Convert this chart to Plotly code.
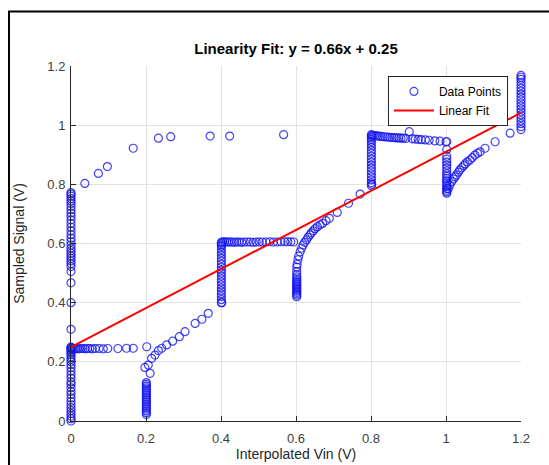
import plotly.graph_objects as go

# ---------------- data ----------------
# column at Vin = 0 (low part)
colA_x = [0.0] * 29
colA_y = [0.0, 0.008, 0.016, 0.025, 0.035, 0.045, 0.055, 0.066, 0.078, 0.09, 0.1, 0.112,
          0.124, 0.132, 0.145, 0.156, 0.168, 0.18, 0.19, 0.2, 0.208, 0.216, 0.224, 0.23,
          0.236, 0.241, 0.245, 0.248, 0.25]
# column at Vin = 0 (upper part)
colB_x = [0.0] * 30
colB_y = [0.31, 0.40, 0.467, 0.505, 0.522, 0.532, 0.541, 0.55, 0.558, 0.567, 0.576, 0.585,
          0.595, 0.606, 0.618, 0.63, 0.642, 0.655, 0.668, 0.68, 0.692, 0.703, 0.714, 0.725,
          0.735, 0.744, 0.752, 0.76, 0.767, 0.772]
# upper arc from 0 to ~0.57
arc_x = [0.037, 0.073, 0.097, 0.166, 0.233, 0.266, 0.371, 0.423, 0.567]
arc_y = [0.803, 0.837, 0.86, 0.922, 0.956, 0.961, 0.963, 0.963, 0.968]
# flat run near 0.245
flatA_x = [0.004, 0.008, 0.012, 0.016, 0.021, 0.026, 0.032, 0.038, 0.044, 0.05, 0.057,
           0.065, 0.075, 0.086, 0.098, 0.125, 0.148, 0.166, 0.202]
flatA_y = [0.245, 0.245, 0.244, 0.245, 0.244, 0.245, 0.245, 0.244, 0.245, 0.245, 0.244,
           0.245, 0.245, 0.244, 0.245, 0.245, 0.246, 0.246, 0.251]
# column at Vin = 0.2
colC_x = [0.201] * 19
colC_y = [0.022, 0.028, 0.034, 0.04, 0.046, 0.052, 0.058, 0.064, 0.07, 0.076, 0.082, 0.088,
          0.094, 0.1, 0.106, 0.112, 0.118, 0.124, 0.13]
# rising curve 0.2 -> 0.4
curveC_x = [0.197, 0.211, 0.206, 0.215, 0.224, 0.233, 0.242, 0.255, 0.271, 0.289, 0.304,
            0.331, 0.349, 0.366, 0.402]
curveC_y = [0.181, 0.161, 0.189, 0.212, 0.223, 0.238, 0.246, 0.257, 0.27, 0.285, 0.302,
            0.33, 0.344, 0.364, 0.4]
# column at Vin = 0.4
colD_x = [0.401] * 23
colD_y = [0.4, 0.41, 0.42, 0.43, 0.44, 0.45, 0.46, 0.47, 0.48, 0.49, 0.5, 0.51, 0.52, 0.53,
          0.54, 0.55, 0.56, 0.57, 0.58, 0.59, 0.595, 0.6, 0.604]
# flat run near 0.605
flatD_x = [0.405, 0.41, 0.415, 0.42, 0.425, 0.43, 0.436, 0.442, 0.448, 0.455, 0.462, 0.47,
           0.478, 0.486, 0.494, 0.502, 0.51, 0.52, 0.53, 0.54, 0.55, 0.56, 0.57, 0.578,
           0.586, 0.594]
flatD_y = [0.606, 0.606, 0.605, 0.605, 0.605, 0.605, 0.604, 0.605, 0.605, 0.604, 0.605,
           0.605, 0.605, 0.604, 0.605, 0.605, 0.605, 0.605, 0.606, 0.605, 0.605, 0.606,
           0.606, 0.606, 0.606, 0.605]
# column at Vin = 0.6
colE_x = [0.602] * 17
colE_y = [0.42, 0.425, 0.43, 0.435, 0.44, 0.445, 0.45, 0.455, 0.46, 0.465, 0.47, 0.475,
          0.48, 0.487, 0.495, 0.505, 0.52]
# rising curve 0.6 -> 0.8
curveE_x = [0.603, 0.605, 0.607, 0.611, 0.615, 0.619, 0.623, 0.628, 0.632, 0.637, 0.641,
            0.646, 0.651, 0.657, 0.664, 0.671, 0.68, 0.689, 0.71, 0.74, 0.771, 0.802]
curveE_y = [0.53, 0.545, 0.557, 0.572, 0.584, 0.595, 0.604, 0.612, 0.621, 0.629, 0.636,
            0.643, 0.65, 0.657, 0.663, 0.668, 0.677, 0.685, 0.705, 0.736, 0.767, 0.8]
# column at Vin = 0.8
colF_x = [0.801] * 20
colF_y = [0.795, 0.805, 0.815, 0.825, 0.835, 0.845, 0.855, 0.865, 0.875, 0.885, 0.895,
          0.905, 0.915, 0.925, 0.935, 0.945, 0.952, 0.958, 0.964, 0.968]
# slowly falling run 0.8 -> 1.0
flatF_x = [0.805, 0.81, 0.815, 0.82, 0.826, 0.832, 0.838, 0.844, 0.85, 0.856, 0.862, 0.868,
           0.874, 0.88, 0.886, 0.893, 0.902, 0.91, 0.918, 0.926, 0.934, 0.945, 0.955, 0.97,
           0.984, 1.0]
flatF_y = [0.966, 0.965, 0.964, 0.963, 0.962, 0.961, 0.96, 0.96, 0.959, 0.958, 0.958,
           0.957, 0.957, 0.956, 0.956, 0.955, 0.978, 0.954, 0.953, 0.952, 0.951, 0.95,
           0.949, 0.947, 0.946, 0.944]
# column at Vin = 1.0
colG_x = [1.002] * 19
colG_y = [0.77, 0.775, 0.78, 0.786, 0.792, 0.798, 0.805, 0.812, 0.82, 0.828, 0.836, 0.845,
          0.855, 0.865, 0.875, 0.885, 0.895, 0.918, 0.944]
# rising curve 1.0 -> 1.2
curveG_x = [1.006, 1.01, 1.015, 1.02, 1.024, 1.028, 1.033, 1.037, 1.042, 1.047, 1.051,
            1.057, 1.064, 1.07, 1.077, 1.084, 1.091, 1.104, 1.131, 1.171]
curveG_y = [0.785, 0.797, 0.809, 0.818, 0.825, 0.832, 0.841, 0.849, 0.856, 0.863, 0.869,
            0.876, 0.882, 0.89, 0.899, 0.905, 0.91, 0.922, 0.944, 0.973]
# column at Vin = 1.2
colH_x = [1.2] * 20
colH_y = [0.985, 0.995, 1.005, 1.015, 1.025, 1.035, 1.045, 1.055, 1.065, 1.075, 1.085,
          1.095, 1.105, 1.115, 1.125, 1.135, 1.145, 1.155, 1.162, 1.168]

fit_slope = 0.66
fit_intercept = 0.25
fit_vin = [0.0, 1.2]

x_ticks = [0, 0.2, 0.4, 0.6, 0.8, 1.0, 1.2]
x_ticktext = ["0", "0.2", "0.4", "0.6", "0.8", "1", "1.2"]
y_ticks = [0, 0.2, 0.4, 0.6, 0.8, 1.0, 1.2]
y_ticktext = ["0", "0.2", "0.4", "0.6", "0.8", "1", "1.2"]

# ---------------- assemble ----------------
seg_x = [colA_x, colB_x, arc_x, flatA_x, colC_x, curveC_x, colD_x, flatD_x, colE_x,
         curveE_x, colF_x, flatF_x, colG_x, curveG_x, colH_x]
seg_y = [colA_y, colB_y, arc_y, flatA_y, colC_y, curveC_y, colD_y, flatD_y, colE_y,
         curveE_y, colF_y, flatF_y, colG_y, curveG_y, colH_y]
vin = [v for s in seg_x for v in s]
sig = [v for s in seg_y for v in s]
fit_sig = [fit_slope * v + fit_intercept for v in fit_vin]

FONT = "Liberation Sans, Arial, Helvetica, sans-serif"
AX = "#262626"
TICK = "#404040"
BLUE = "rgba(20,20,240,0.8)"

fig = go.Figure()
fig.add_trace(go.Scatter(
    x=vin, y=sig, mode="markers", name="Data Points", cliponaxis=False,
    marker=dict(symbol="circle-open", size=8, color=BLUE,
                line=dict(width=1.2, color=BLUE)),
))
fig.add_trace(go.Scatter(
    x=fit_vin, y=fit_sig, mode="lines", name="Linear Fit",
    line=dict(color="#ff0000", width=2),
))

axis_common = dict(
    showgrid=True, gridcolor="#e3e3e3", gridwidth=1, zeroline=False,
    showline=True, linecolor=AX, linewidth=1, mirror=False,
    ticks="inside", ticklen=5, tickcolor=AX, tickwidth=1,
    tickfont=dict(family=FONT, size=13, color=TICK),
    automargin=False,
)
fig.update_xaxes(range=[0, 1.2], tickvals=x_ticks, ticktext=x_ticktext,
                 ticklabelstandoff=5,
                 title=dict(text="Interpolated Vin (V)", font=dict(family=FONT, size=14, color=AX),
                            standoff=3),
                 **axis_common)
fig.update_yaxes(range=[0, 1.2], tickvals=y_ticks, ticktext=y_ticktext,
                 ticklabelstandoff=2,
                 title=dict(text="Sampled Signal (V)", font=dict(family=FONT, size=14, color=AX),
                            standoff=19),
                 **axis_common)

fig.update_layout(
    width=549, height=465,
    margin=dict(l=71, r=28, t=66, b=44),
    paper_bgcolor="white", plot_bgcolor="white",
    title=dict(text="<b>Linearity Fit: y = 0.66x + 0.25</b>", x=0.5, xref="paper",
               y=1 - 49 / 465, yref="container", yanchor="middle", xanchor="center",
               font=dict(family=FONT, size=15, color="black")),
    showlegend=True,
    legend=dict(x=0.971, xanchor="right", y=0.972, yanchor="top",
                bgcolor="white", bordercolor=AX, borderwidth=1,
                font=dict(family=FONT, size=12, color="black"),
                tracegroupgap=0, itemwidth=40),
    shapes=[dict(type="rect", xref="paper", yref="paper",
                 x0=(9 - 71) / 450, x1=1.3, y0=-0.3, y1=(421 - 11.5) / 355,
                 line=dict(color="black", width=2), fillcolor="rgba(0,0,0,0)", layer="above")],
)

fig.write_html("out.html")
